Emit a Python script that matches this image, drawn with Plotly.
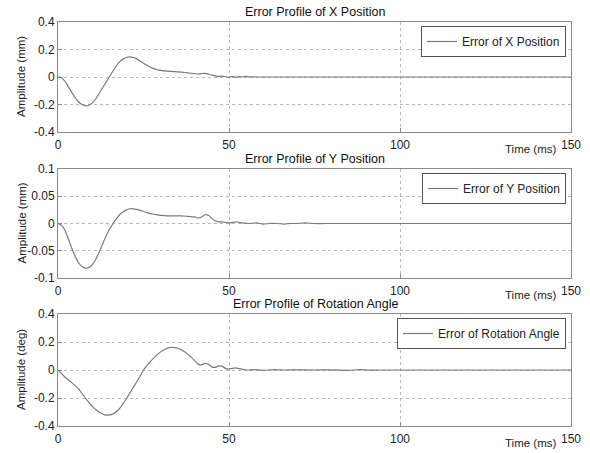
import plotly.graph_objects as go

# ---- data ----
t_x = [0, 1, 2, 3, 4, 5, 6, 7, 8, 9, 10, 11, 12, 13, 14, 15, 16, 17, 18, 19, 20,
       21, 22, 23, 24, 25, 26, 27, 28, 29, 30, 32, 34, 36, 38, 40, 41, 42, 43, 44,
       45, 46, 47, 48, 49, 50, 51, 52, 53, 54, 55, 56, 57, 58, 60, 150]
err_x = [0, -0.005, -0.03, -0.07, -0.11, -0.15, -0.18, -0.20, -0.21, -0.205, -0.19,
         -0.16, -0.12, -0.08, -0.04, 0.0, 0.04, 0.08, 0.11, 0.13, 0.142,
         0.146, 0.142, 0.132, 0.117, 0.10, 0.085, 0.071, 0.061, 0.053, 0.048, 0.043, 0.039, 0.035, 0.03, 0.024, 0.022, 0.025, 0.027, 0.02,
         0.014, 0.008, 0.004, 0.006, 0.002, 0.0, 0.003, -0.002, 0.004, 0.0, 0.005, 0.0, 0.002, 0.0, 0.0, 0.0]

t_y = [0, 1, 2, 3, 4, 5, 6, 7, 8, 9, 10, 11, 12, 13, 14, 15, 16, 17, 18, 19, 20,
       21, 22, 23, 24, 25, 26, 28, 30, 32, 34, 36, 38, 40, 41, 42, 43, 44, 45, 46,
       47, 48, 49, 50, 51, 52, 53, 54, 56, 58, 60, 62, 64, 66, 68, 70, 72, 75, 80, 150]
err_y = [0, -0.003, -0.012, -0.028, -0.045, -0.06, -0.072, -0.079, -0.082, -0.081, -0.076,
         -0.066, -0.053, -0.038, -0.024, -0.011, -0.001, 0.008, 0.016, 0.021, 0.025,
         0.027, 0.027, 0.026, 0.024, 0.022, 0.020, 0.017, 0.015, 0.014, 0.014, 0.014, 0.013, 0.012, 0.010, 0.012, 0.016, 0.015, 0.009, 0.005,
         0.003, 0.003, 0.002, 0.001, 0.002, 0.003, 0.002, 0.001, 0.0, 0.001, -0.001, 0.0, 0.0, -0.001, 0.0, 0.0, 0.001, 0.0, 0.0, 0.0]

t_r = [0, 2, 4, 6, 8, 10, 12, 14, 16, 18, 20, 22, 24, 25, 27, 29, 31, 33, 35, 37,
       39, 41, 42, 43, 44, 45, 46, 47, 48, 49, 50, 51, 52, 53, 55, 57, 60, 63, 66, 70,
       75, 80, 85, 88, 91, 94, 150]
err_r = [0, -0.05, -0.09, -0.135, -0.2, -0.26, -0.3, -0.322, -0.315, -0.275, -0.205, -0.125, -0.045, 0.0, 0.06, 0.11, 0.145, 0.161, 0.155, 0.13,
         0.09, 0.042, 0.036, 0.048, 0.04, 0.022, 0.019, 0.029, 0.026, 0.012, 0.007, 0.012, 0.015, 0.01, 0.0, 0.003, -0.002, 0.002, 0.0, 0.001,
         0.0, 0.001, -0.002, 0.002, -0.001, 0.0, 0.0]

series_names = ["Error of X Position", "Error of Y Position", "Error of Rotation Angle"]
titles = ["Error Profile of X Position", "Error Profile of Y Position", "Error Profile of Rotation Angle"]
ytitles = ["Amplitude (mm)", "Amplitude (mm)", "Amplitude (deg)"]
yranges = [[-0.4, 0.4], [-0.1, 0.1], [-0.4, 0.4]]
ytickvals = [[-0.4, -0.2, 0, 0.2, 0.4], [-0.1, -0.05, 0, 0.05, 0.1], [-0.4, -0.2, 0, 0.2, 0.4]]
yticktext = [["-0.4", "-0.2", "0", "0.2", "0.4"], ["-0.1", "-0.05", "0", "0.05", "0.1"], ["-0.4", "-0.2", "0", "0.2", "0.4"]]
xtickvals = [0, 50, 100, 150]
xlabel = "Time (ms)"

# ---- layout geometry (pixels) ----
W, H = 590, 453
L, R, T, B = 58, 19, 22, 27
PW, PH = W - L - R, H - T - B
rows_px = [(22, 132), (169, 278), (314, 426)]

def py(ypix):
    return (H - B - ypix) / PH

def px(xpix):
    return (xpix - L) / PW

FONT = "Liberation Sans, Arial, sans-serif"
LINE = "#7a7a7a"
AX = "#8a8a8a"

fig = go.Figure()
data = [(t_x, err_x), (t_y, err_y), (t_r, err_r)]
annotations = []
for i, ((tt, vv), (top, bot)) in enumerate(zip(data, rows_px)):
    k = "" if i == 0 else str(i + 1)
    fig.add_trace(go.Scatter(
        x=tt, y=vv, mode="lines", name=series_names[i],
        line=dict(color=LINE, width=1.2, shape="spline", smoothing=0.6),
        xaxis="x" + k, yaxis="y" + k, legend="legend" + k,
    ))
    fig.layout["xaxis" + k] = dict(
        domain=[0, 1], anchor="y" + k, range=[0, 150], tickvals=xtickvals,
        showgrid=True, gridcolor="#b8b8b8", griddash="dot", gridwidth=1,
        zeroline=False, showline=True, linecolor=AX, linewidth=1, mirror=True,
        ticks="inside", ticklen=4, tickcolor=AX, ticklabelstandoff=2,
        tickfont=dict(family=FONT, size=12, color="#222"), automargin=False,
    )
    fig.layout["yaxis" + k] = dict(
        domain=[py(bot), py(top)], anchor="x" + k, range=yranges[i],
        tickvals=ytickvals[i], ticktext=yticktext[i],
        showgrid=True, gridcolor="#b8b8b8", griddash="dot", gridwidth=1,
        zeroline=False, showline=True, linecolor=AX, linewidth=1, mirror=True,
        ticks="inside", ticklen=4, tickcolor=AX,
        tickfont=dict(family=FONT, size=12, color="#222"), automargin=False,
    )
    fig.layout["legend" + k] = dict(
        x=px(566), xanchor="right", y=py(top + 4), yanchor="top",
        bordercolor="#555", borderwidth=1, bgcolor="white",
        font=dict(family=FONT, size=12, color="#222"),
        itemwidth=30, tracegroupgap=0,
    )
    annotations.append(dict(
        text=titles[i], xref="paper", yref="paper", x=px(315), y=py(top - 1),
        xanchor="center", yanchor="bottom", showarrow=False,
        font=dict(family=FONT, size=12.5, color="#111"),
    ))
    annotations.append(dict(
        text=ytitles[i], xref="paper", yref="paper", x=px(21), y=py((top + bot) / 2),
        xanchor="center", yanchor="middle", showarrow=False, textangle=-90,
        font=dict(family=FONT, size=11.5, color="#222"),
    ))
    annotations.append(dict(
        text=xlabel, xref="paper", yref="paper", x=px(530), y=py(bot + 17),
        xanchor="center", yanchor="middle", showarrow=False,
        font=dict(family=FONT, size=11.5, color="#222"),
    ))

fig.update_layout(
    width=W, height=H, margin=dict(l=L, r=R, t=T, b=B, autoexpand=False),
    paper_bgcolor="white", plot_bgcolor="white",
    annotations=annotations, showlegend=True,
)

fig.write_html("out.html", config={"displayModeBar": False},
               post_script="document.body.style.margin='0';")
